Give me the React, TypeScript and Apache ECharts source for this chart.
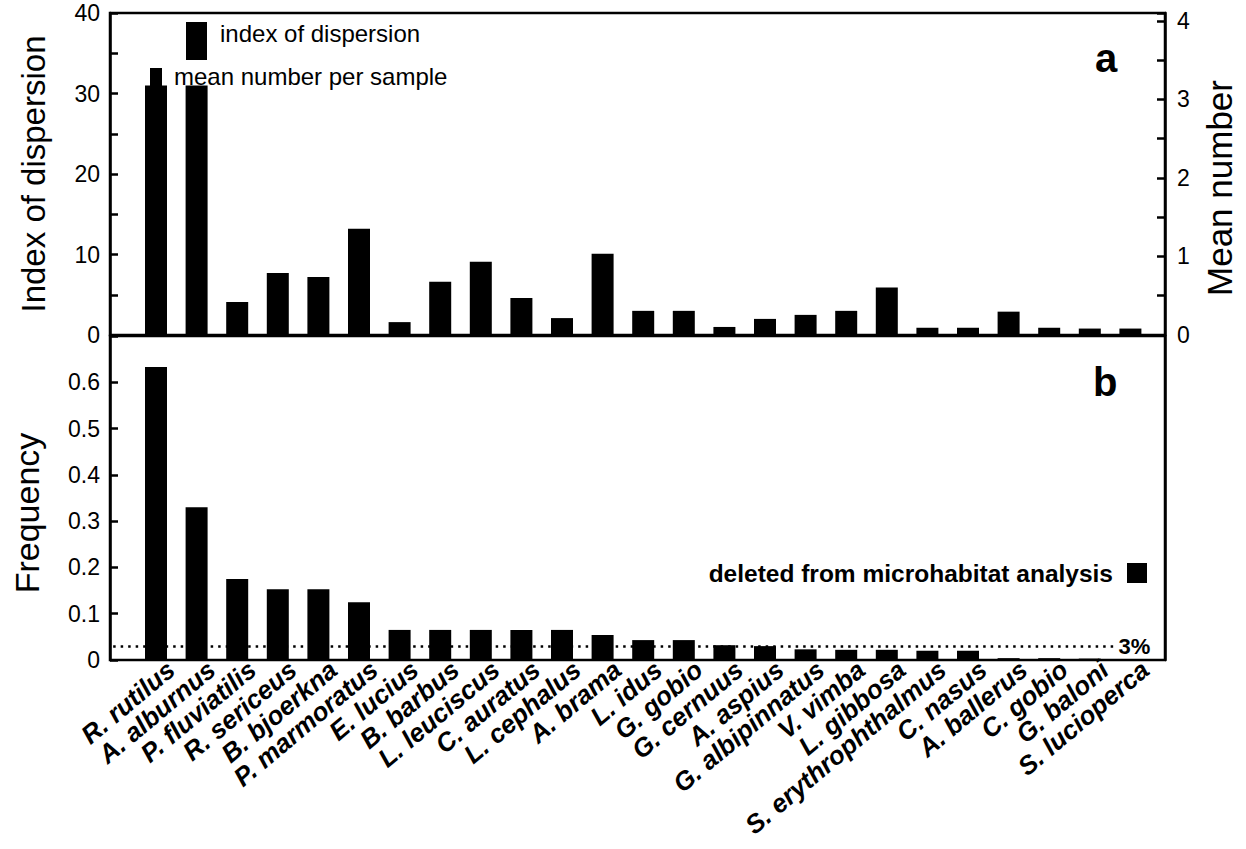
import React, { useEffect, useRef } from "react";
import * as echarts from "echarts";

const categories = [
  "R. rutilus", "A. alburnus", "P. fluviatilis", "R. sericeus", "B. bjoerkna",
  "P. marmoratus", "E. lucius", "B. barbus", "L. leuciscus", "C. auratus",
  "L. cephalus", "A. brama", "L. idus", "G. gobio", "G. cernuus",
  "A. aspius", "G. albipinnatus", "V. vimba", "L. gibbosa", "S. erythrophthalmus",
  "C. nasus", "A. ballerus", "C. gobio", "G. baloni", "S. lucioperca",
];

const indexOfDispersion = [
  31, 31, 4.1, 7.7, 7.2, 13.2, 1.6, 6.6, 9.1, 4.6,
  2.1, 10.1, 3.0, 3.0, 1.0, 2.0, 2.5, 3.0, 5.9, 0.9,
  0.9, 2.9, 0.9, 0.8, 0.8,
];

const frequency = [
  0.633, 0.33, 0.175, 0.153, 0.153, 0.125, 0.065, 0.065, 0.065, 0.065,
  0.065, 0.054, 0.043, 0.043, 0.032, 0.03, 0.023, 0.022, 0.022, 0.02,
  0.02, 0.004, 0.004, 0.003, 0.002,
];

const threshold = 0.03;
const thresholdLabel = "3%";

const FONT = "'Liberation Sans', Arial, Helvetica, sans-serif";

export default function App() {
  const ref = useRef<HTMLDivElement>(null);

  useEffect(() => {
    if (!ref.current) return;
    const chart = echarts.init(ref.current, null, { renderer: "svg" });

    const frameAxisLine = { show: true, lineStyle: { color: "#000", width: 2.5 } };
    const tickIn = { show: true, inside: true, length: 8, lineStyle: { color: "#000", width: 2.5 } };
    const tickLabel = { color: "#000", fontSize: 23, fontFamily: FONT, margin: 10 };
    const nameStyle = { color: "#000", fontSize: 33, fontFamily: FONT };

    const option: any = {
      animation: false,
      backgroundColor: "#fff",
      textStyle: { fontFamily: FONT },
      grid: [
        { left: 110, width: 1055, top: 13, height: 322, show: true, borderColor: "#000", borderWidth: 2.5, backgroundColor: "transparent" },
        { left: 135.7, width: 1015, top: 13, height: 322 },
        { left: 110, width: 1055, top: 336, height: 324, show: true, borderColor: "#000", borderWidth: 2.5, backgroundColor: "transparent" },
        { left: 135.7, width: 1015, top: 336, height: 324 },
        { left: 150.7, width: 1015, top: 336, height: 324 },
      ],
      xAxis: [
        { gridIndex: 0, type: "value", min: 0, max: 1, show: false },
        { gridIndex: 1, type: "category", data: categories, axisLine: { show: false }, axisTick: { show: false }, axisLabel: { show: false } },
        { gridIndex: 2, type: "value", min: 0, max: 1, show: false },
        { gridIndex: 3, type: "category", data: categories, axisLine: { show: false }, axisTick: { show: false }, axisLabel: { show: false } },
        {
          gridIndex: 4, type: "category", data: categories,
          axisLine: { show: false }, axisTick: { show: false },
          axisLabel: {
            interval: 0, rotate: 40, margin: 6, color: "#000",
            fontSize: 26, fontWeight: "bold", fontStyle: "italic", fontFamily: FONT,
          },
        },
      ],
      yAxis: [
        {
          gridIndex: 0, type: "value", position: "left", min: 0, max: 40, interval: 5,
          axisLine: frameAxisLine, axisTick: tickIn, splitLine: { show: false },
          axisLabel: { ...tickLabel, formatter: (v: number) => (v % 10 === 0 ? String(v) : "") },
          name: "Index of dispersion", nameLocation: "middle", nameGap: 60, nameRotate: 90, nameTextStyle: nameStyle,
        },
        {
          gridIndex: 0, type: "value", position: "right", min: 0, max: 4.1, interval: 0.5,
          axisLine: frameAxisLine, axisTick: tickIn, splitLine: { show: false },
          axisLabel: { ...tickLabel, margin: 12, formatter: (v: number) => (Number.isInteger(v) ? String(v) : "") },
        },
        { gridIndex: 1, type: "value", min: 0, max: 40, show: false },
        {
          gridIndex: 2, type: "value", position: "left", min: 0, max: 0.7, interval: 0.1,
          axisLine: frameAxisLine, axisTick: tickIn, splitLine: { show: false },
          axisLabel: { ...tickLabel, formatter: (v: number) => (v > 0.65 ? "" : String(Math.round(v * 10) / 10)) },
        },
        {
          gridIndex: 2, type: "value", position: "right", min: 0, max: 0.7,
          axisLine: frameAxisLine, axisTick: { show: false }, axisLabel: { show: false }, splitLine: { show: false },
        },
        { gridIndex: 3, type: "value", min: 0, max: 0.7, show: false },
        { gridIndex: 4, type: "value", min: 0, max: 0.7, show: false },
      ],
      series: [
        {
          name: "index of dispersion", type: "bar", xAxisIndex: 1, yAxisIndex: 2,
          data: indexOfDispersion, barWidth: 22, itemStyle: { color: "#000" },
        },
        {
          name: "frequency", type: "bar", xAxisIndex: 3, yAxisIndex: 5,
          data: frequency, barWidth: 22, itemStyle: { color: "#000" },
        },
        {
          name: "threshold", type: "scatter", xAxisIndex: 2, yAxisIndex: 3,
          data: [[0, threshold]], symbolSize: 0, silent: true,
          markLine: {
            silent: true, symbol: "none",
            lineStyle: { color: "#000", type: [2.5, 5], width: 2.5 },
            label: {
              show: true, position: "end", formatter: thresholdLabel, distance: 3,
              color: "#000", fontSize: 22, fontWeight: "bold", fontFamily: FONT,
            },
            data: [[{ coord: [0.003, threshold] }, { coord: [0.953, threshold] }]],
          },
        },
      ],
      graphic: [
        { type: "text", left: 1095, top: 38, style: { text: "a", font: `bold 40px ${FONT}`, fill: "#000" } },
        { type: "text", left: 1093, top: 362, style: { text: "b", font: `bold 40px ${FONT}`, fill: "#000" } },
        { type: "rect", shape: { x: 186, y: 22, width: 21, height: 38 }, style: { fill: "#000" } },
        { type: "text", x: 220, y: 33, style: { text: "index of dispersion", font: `24px ${FONT}`, fill: "#000", textVerticalAlign: "middle" } },
        { type: "rect", shape: { x: 150, y: 68, width: 12, height: 21 }, style: { fill: "#000" } },
        { type: "text", x: 174, y: 76, style: { text: "mean number per sample", font: `24px ${FONT}`, fill: "#000", textVerticalAlign: "middle" } },
        { type: "text", x: 1113, y: 573, style: { text: "deleted from microhabitat analysis", font: `bold 24.5px ${FONT}`, fill: "#000", textAlign: "right", textVerticalAlign: "middle" } },
        { type: "rect", shape: { x: 1127, y: 563, width: 20, height: 20 }, style: { fill: "#000" } },
        { type: "text", x: 27, y: 513, rotation: Math.PI / 2, style: { text: "Frequency", font: `34px ${FONT}`, fill: "#000", textAlign: "center", textVerticalAlign: "middle" } },
        { type: "text", x: 1219, y: 188, rotation: Math.PI / 2, style: { text: "Mean number", font: `35px ${FONT}`, fill: "#000", textAlign: "center", textVerticalAlign: "middle" } },
      ],
    };

    chart.setOption(option);
    return () => chart.dispose();
  }, []);

  return (
    <div
      ref={ref}
      style={{ position: "fixed", left: 0, top: 0, width: 1246, height: 849, background: "#fff" }}
    />
  );
}
